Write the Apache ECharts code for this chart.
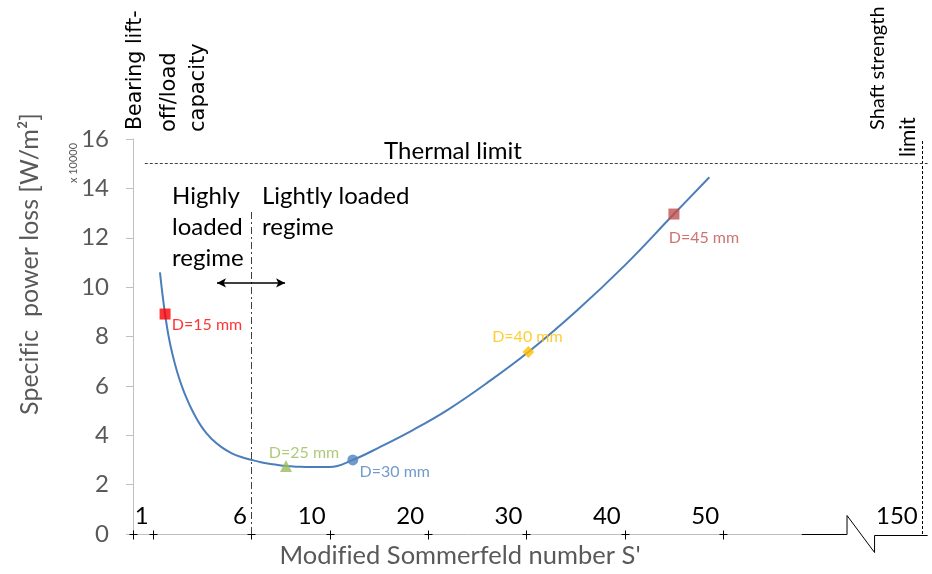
<!DOCTYPE html>
<html>
<head>
<meta charset="utf-8">
<script src="https://cdn.jsdelivr.net/npm/echarts@6/dist/echarts.min.js"></script>
<style>
  html, body { margin: 0; padding: 0; background: #fff; }
  #chart { width: 932px; height: 574px; }
</style>
</head>
<body>
<div id="chart"></div>
<script>
// Power-loss curve: modified Sommerfeld number S' and specific power loss (x 10000 W/m²)
const sValues    = [1.37, 1.5, 1.63, 1.8, 2.0, 2.25, 2.5, 2.75, 3.0, 3.25, 3.5, 3.75, 4.0, 4.5, 5.0, 5.5, 6.0, 6.5, 7.0, 7.78, 8.5, 9.0, 10.0, 12.35, 15.0, 18.5, 22.0, 26.0, 30.2, 35.0, 40.0, 45.0, 48.6];
const lossValues = [10.6, 9.7, 8.91, 8.05, 7.3, 6.55, 5.95, 5.45, 5.02, 4.65, 4.33, 4.07, 3.85, 3.52, 3.28, 3.12, 3.01, 2.91, 2.84, 2.75, 2.72, 2.71, 2.71, 3.00, 3.50, 4.22, 5.03, 6.12, 7.37, 9.00, 10.88, 12.96, 14.45];

// Bearing diameters marked on the curve
const markerLabels = ['D=15 mm', 'D=25 mm', 'D=30 mm', 'D=40 mm', 'D=45 mm'];
const markerS      = [1.63, 7.78, 12.35, 30.2, 45.0];
const markerLoss   = [8.91, 2.75, 3.00, 7.37, 12.96];

// x-axis ticks (broken S' axis)
const xTickValues = [1, 6, 10, 20, 30, 40, 50, 150];
const xTickLabels = ['1', '6', '10', '20', '30', '40', '50', '150'];
const xCrossTicks = [0, 1, 6, 10, 20, 30, 40, 50];

// Design limits
const thermalLimit = 15;      // x 10000 W/m²
const liftOffS = 1;
const regimeBoundaryS = 6;
const shaftLimitS = 150;

// Marker appearance
const markerStyles = [
  { symbol: 'rect',     size: 11, color: '#FF0000', text: '#FF0000', offset: [42, 11] },
  { symbol: 'triangle', size: 12, color: '#9BBB59', text: '#9BBB59', offset: [18, -13] },
  { symbol: 'circle',   size: 11, color: '#4F81BD', text: '#4F81BD', offset: [42, 12] },
  { symbol: 'diamond',  size: 12, color: '#FFC000', text: '#FFC000', offset: [-1, -15] },
  { symbol: 'rect',     size: 11, color: '#C0504D', text: '#C0504D', offset: [30, 24] }
];

// Piecewise S' scale: 0–10 at full scale, 10–50 at half scale, then a break up to 150
function sPos(s) {
  if (s <= 10) return s;
  if (s <= 50) return 10 + (s - 10) / 2;
  return 40.1 + (s - 150) / 50;
}

const X_MAX = 40.4;
const BREAK_START = 34.0, BREAK_MID = 36.3, BREAK_END = 37.7;
const FONT = 'Lato, "Open Sans", sans-serif';
const SANS = '"DejaVu Sans", "Liberation Sans", sans-serif';

const chart = echarts.init(document.getElementById('chart'), null, { renderer: 'canvas' });

const curveData = sValues.map((s, i) => [sPos(s), lossValues[i]]);
const markerData = markerS.map((s, i) => {
  const st = markerStyles[i];
  return {
    value: [sPos(s), markerLoss[i]],
    symbol: st.symbol,
    symbolSize: st.size,
    itemStyle: { color: st.color },
    label: {
      show: true,
      formatter: markerLabels[i],
      position: 'inside',
      offset: st.offset,
      color: st.text,
      fontSize: 16,
      fontFamily: FONT
    }
  };
});

const dashBlack = { color: '#000', width: 1, type: [3, 2] };

const option = {
  animation: false,
  backgroundColor: '#fff',
  grid: { left: 133, right: 932 - 133 - X_MAX * 19.67, top: 139, bottom: 40, containLabel: false },
  xAxis: {
    type: 'value',
    min: 0,
    max: X_MAX,
    axisLine: { show: false },
    axisTick: { show: false },
    splitLine: { show: false },
    axisLabel: {
      customValues: xTickValues.map(sPos),
      inside: true,
      margin: 6,
      align: 'right',
      padding: [0, 4, 0, 0],
      color: '#000',
      fontSize: 24,
      fontFamily: FONT,
      formatter: function (v) {
        let best = 0, bd = Infinity;
        xTickValues.forEach((t, i) => {
          const d = Math.abs(sPos(t) - v);
          if (d < bd) { bd = d; best = i; }
        });
        return xTickLabels[best];
      }
    }
  },
  yAxis: {
    type: 'value',
    min: 0,
    max: 16,
    interval: 2,
    axisLine: { show: true, lineStyle: { color: '#BFBFBF', width: 1 } },
    axisTick: { show: true, length: 7, lineStyle: { color: '#BFBFBF' } },
    splitLine: { show: false },
    axisLabel: { color: '#595959', fontSize: 24, fontFamily: FONT, margin: 24 }
  },
  series: [
    {
      // limit lines and the regime arrow
      type: 'line',
      data: [],
      silent: true,
      markLine: {
        silent: true,
        symbol: ['none', 'none'],
        label: { show: false },
        data: [
          [{ coord: [sPos(liftOffS), 0], lineStyle: dashBlack }, { coord: [sPos(liftOffS), 16.1] }],
          [{ coord: [sPos(regimeBoundaryS), 0], lineStyle: { color: '#404040', width: 1, type: [7, 3, 2, 3] } }, { coord: [sPos(regimeBoundaryS), 13.1] }],
          [{ coord: [sPos(shaftLimitS), 0], lineStyle: dashBlack }, { coord: [sPos(shaftLimitS), 16] }],
          [{ coord: [0.6, thermalLimit], lineStyle: { color: '#404040', width: 1, type: [3, 2] } }, { coord: [X_MAX, thermalLimit] }],
          [{ coord: [4.27, 10.17], symbol: 'arrow', symbolSize: [7, 9], lineStyle: { color: '#000', width: 1.5, type: 'solid' } },
           { coord: [7.73, 10.17], symbol: 'arrow', symbolSize: [7, 9] }]
        ]
      }
    },
    {
      type: 'line',
      data: curveData,
      smooth: 0.4,
      symbol: 'none',
      lineStyle: { color: '#4A7EBB', width: 2 },
      z: 3
    },
    {
      type: 'scatter',
      data: markerData,
      z: 4
    },
    {
      // x-axis line with the zigzag break
      type: 'custom',
      data: [[0]],
      clip: false,
      silent: true,
      renderItem: function (params, api) {
        const o = api.coord([0, 0]);
        const a = api.coord([BREAK_START, 0]);
        const b = api.coord([BREAK_MID, 0]);
        const c = api.coord([BREAK_END, 0]);
        const e = api.coord([X_MAX, 0]);
        const y = Math.round(o[1]) + 0.5;
        return {
          type: 'group',
          children: [
            { type: 'line', shape: { x1: o[0], y1: y, x2: a[0], y2: y }, style: { stroke: '#BFBFBF', lineWidth: 1 } },
            { type: 'polyline', shape: { points: [[a[0], y], [b[0], y], [b[0], y - 19], [c[0], y + 18], [c[0], y + 1], [e[0], y + 1]] },
              style: { stroke: '#000', lineWidth: 1, fill: null } }
          ]
        };
      }
    },
    {
      // cross-shaped tick marks on the x-axis
      type: 'custom',
      data: xCrossTicks.map(s => [sPos(s)]),
      clip: false,
      silent: true,
      encode: { x: 0 },
      renderItem: function (params, api) {
        const p = api.coord([api.value(0), 0]);
        const x = Math.round(p[0]) + 0.5, y = Math.round(p[1]) + 0.5;
        return {
          type: 'group',
          children: [
            { type: 'line', shape: { x1: x - 4, y1: y, x2: x + 4, y2: y }, style: { stroke: '#000', lineWidth: 1 } },
            { type: 'line', shape: { x1: x, y1: y - 4, x2: x, y2: y + 5 }, style: { stroke: '#000', lineWidth: 1 } }
          ]
        };
      }
    }
  ],
  graphic: [
    { type: 'text', x: 30, y: 264, rotation: Math.PI / 2,
      style: { text: 'Specif\u200Cic  power loss [W/m²]', font: '25px ' + FONT, fill: '#595959', align: 'center', verticalAlign: 'middle' } },
    { type: 'text', x: 73, y: 163, rotation: Math.PI / 2,
      style: { text: 'x 10000', font: '11px ' + FONT, fill: '#595959', align: 'center', verticalAlign: 'middle' } },
    { type: 'text', x: 460, y: 556,
      style: { text: "Modif\u200Cied Sommerfeld number S'", font: '25.5px ' + FONT, fill: '#595959', align: 'center', verticalAlign: 'middle' } },
    { type: 'text', x: 453, y: 151,
      style: { text: 'Thermal limit', font: '24px ' + FONT, fill: '#000', align: 'center', verticalAlign: 'middle' } },
    { type: 'text', x: 172, y: 196, style: { text: 'Highly', font: '24px ' + FONT, fill: '#000', verticalAlign: 'middle' } },
    { type: 'text', x: 172, y: 227, style: { text: 'loaded', font: '24px ' + FONT, fill: '#000', verticalAlign: 'middle' } },
    { type: 'text', x: 172, y: 258, style: { text: 'regime', font: '24px ' + FONT, fill: '#000', verticalAlign: 'middle' } },
    { type: 'text', x: 262, y: 196, style: { text: 'Lightly loaded', font: '24px ' + FONT, fill: '#000', verticalAlign: 'middle' } },
    { type: 'text', x: 262, y: 227, style: { text: 'regime', font: '24px ' + FONT, fill: '#000', verticalAlign: 'middle' } },
    { type: 'text', x: 136, y: 130, rotation: Math.PI / 2,
      style: { text: 'Bearing lift-', font: '20.5px ' + SANS, fill: '#000', align: 'left', verticalAlign: 'middle' } },
    { type: 'text', x: 170, y: 132, rotation: Math.PI / 2,
      style: { text: 'of\u200Cf/load', font: '21px ' + SANS, fill: '#000', align: 'left', verticalAlign: 'middle' } },
    { type: 'text', x: 199, y: 132, rotation: Math.PI / 2,
      style: { text: 'capacity', font: '21px ' + SANS, fill: '#000', align: 'left', verticalAlign: 'middle' } },
    { type: 'text', x: 878, y: 130, rotation: Math.PI / 2,
      style: { text: 'Shaft strength', font: '20px ' + FONT, fill: '#000', align: 'left', verticalAlign: 'middle' } },
    { type: 'text', x: 908, y: 157, rotation: Math.PI / 2,
      style: { text: 'limit', font: '21px ' + FONT, fill: '#000', align: 'left', verticalAlign: 'middle' } }
  ]
};

chart.setOption(option);
</script>
</body>
</html>
